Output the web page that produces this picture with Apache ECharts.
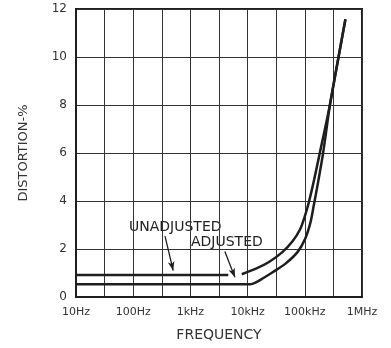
<!DOCTYPE html>
<html><head><meta charset="utf-8">
<script src="https://cdn.jsdelivr.net/npm/echarts@6/dist/echarts.min.js"></script>
<style>html,body{margin:0;padding:0;background:#fff}#c{width:391px;height:348px}</style>
</head><body><div id="c"></div>
<script>
// x-axis decade tick labels
const freqTicks = [10, 100, 1000, 10000, 100000, 1000000];
const freqTickLabels = ['10Hz', '100Hz', '1kHz', '10kHz', '100kHz', '1MHz'];
// y-axis
const yMin = 0, yMax = 12, yStep = 2;
// UNADJUSTED curve (Hz, %), '-' = gap where the arrow crosses
const unadjFreq = [10, 1000, 4600, 6000, 7900, 14000, 24000, 41000, 61000, 82000, 100000, 118000, 145000, 178000, 268000, 386000, 513000];
const unadjDist = [0.92, 0.92, 0.92, '-', 0.95, 1.18, 1.47, 1.88, 2.32, 2.8, 3.36, 3.96, 4.87, 5.87, 7.88, 9.96, 11.57];
// ADJUSTED curve (Hz, %)
const adjFreq = [10, 1000, 11200, 14000, 18600, 27000, 46000, 75000, 102000, 126000, 143000, 163000, 209000, 275000, 386000, 513000];
const adjDist = [0.53, 0.53, 0.53, 0.61, 0.78, 1.02, 1.39, 1.88, 2.44, 3.12, 3.8, 4.52, 6.0, 8.0, 9.96, 11.57];
// annotation arrows (from, to) in data coords
const unadjArrow = [[360, 2.54], [500, 1.1]];
const adjArrow = [[4000, 1.9], [6000, 0.82]];

const chart = echarts.init(document.getElementById('c'));
const font = 'DejaVu Sans';
const ink = '#1e1e1e';
const pair = (xs, ys) => xs.map((x, i) => [x, ys[i]]);
const arrowML = (a) => [{ coord: a[0] }, { coord: a[1] }];

chart.setOption({
  animation: false,
  backgroundColor: '#fff',
  grid: { left: 76, right: 29, top: 9, bottom: 51, show: true, borderColor: ink, borderWidth: 2 },
  xAxis: [{
    type: 'log', logBase: 10, min: freqTicks[0], max: freqTicks[freqTicks.length - 1],
    name: 'FREQUENCY', nameLocation: 'middle', nameGap: 31,
    nameTextStyle: { fontFamily: font, fontSize: 14, color: '#333' },
    axisLine: { show: true, lineStyle: { color: ink, width: 2 } },
    axisTick: { show: false }, splitLine: { show: false },
    axisLabel: { fontFamily: font, fontSize: 11, color: '#333', margin: 10,
      formatter: v => { const i = freqTicks.findIndex(t => Math.abs(Math.log10(t) - Math.log10(v)) < 1e-6); return i >= 0 ? freqTickLabels[i] : ''; } }
  }, {
    type: 'value', min: 1, max: 6, interval: 0.5, position: 'bottom',
    axisLine: { show: false }, axisTick: { show: false }, axisLabel: { show: false },
    splitLine: { show: true, lineStyle: { color: '#333', width: 1 } }
  }],
  yAxis: {
    type: 'value', min: yMin, max: yMax, interval: yStep,
    name: 'DISTORTION-%', nameLocation: 'middle', nameGap: 46,
    nameTextStyle: { fontFamily: font, fontSize: 13, color: '#333' },
    axisLine: { show: true, lineStyle: { color: ink, width: 2 } },
    axisTick: { show: false },
    splitLine: { show: true, lineStyle: { color: '#333', width: 1 } },
    axisLabel: { fontFamily: font, fontSize: 12, color: '#333', margin: 9 }
  },
  series: [{
    name: 'UNADJUSTED', type: 'line', xAxisIndex: 0, data: pair(unadjFreq, unadjDist),
    symbol: 'none', smooth: 0.3, connectNulls: false,
    lineStyle: { color: ink, width: 2.5 },
    markLine: { silent: true, symbol: ['none', 'arrow'], symbolSize: [5, 9],
      lineStyle: { color: ink, width: 1.3, type: 'solid' }, label: { show: false },
      data: [arrowML(unadjArrow), arrowML(adjArrow)] }
  }, {
    name: 'ADJUSTED', type: 'line', xAxisIndex: 0, data: pair(adjFreq, adjDist),
    symbol: 'none', smooth: 0.3,
    lineStyle: { color: ink, width: 2.5 }
  }],
  graphic: [
    { type: 'text', left: 129, top: 220, style: { text: 'UNADJUSTED', font: '14px "DejaVu Sans"', fill: '#222' } },
    { type: 'text', left: 191, top: 235, style: { text: 'ADJUSTED', font: '14px "DejaVu Sans"', fill: '#222' } }
  ]
});
</script></body></html>
